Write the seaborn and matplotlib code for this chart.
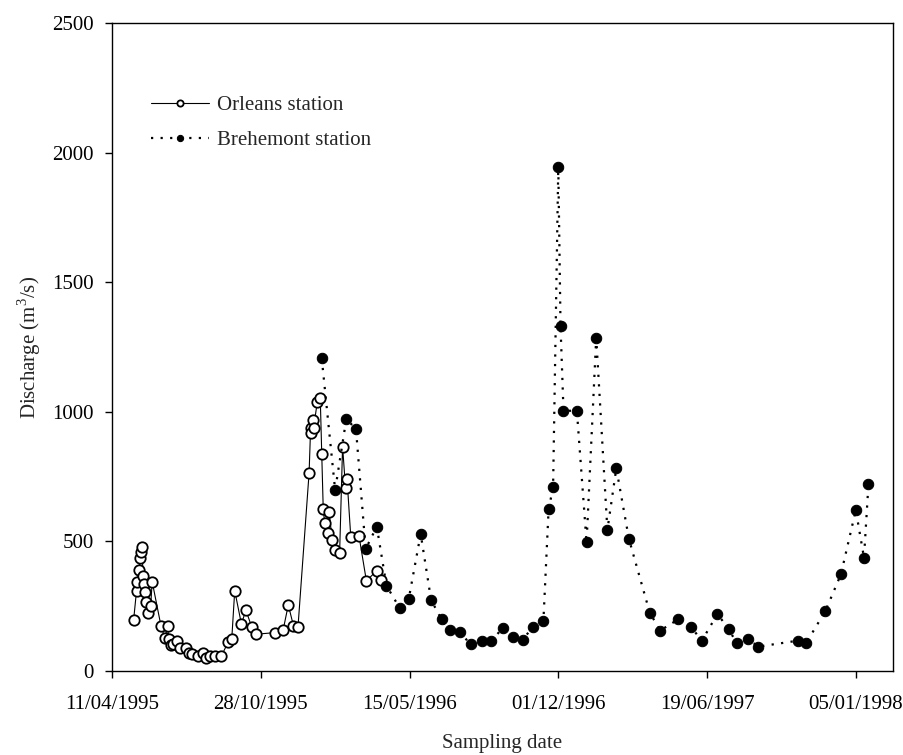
import numpy as np
import pandas as pd
import matplotlib
matplotlib.use("Agg")
import matplotlib.pyplot as plt
import matplotlib.dates as mdates
import seaborn as sns

# ---- data (days after 11/04/1995, discharge m3/s) ----
start_date = "1995-04-11"
orleans_days = [29, 33, 34, 36, 38, 39, 40, 42, 43, 44, 46, 49, 52, 54,
                66, 71, 75, 76, 79, 82, 87, 92, 100, 103, 107, 115, 123, 127,
                132, 138, 147, 156, 161, 165, 174, 180, 188, 194, 219, 230,
                237, 244, 250, 265, 267, 268, 270, 271, 276, 280, 282, 284,
                286, 291, 292, 296, 300, 306, 310, 314, 316, 321, 332, 342,
                356, 362]
orleans_q = [195, 310, 345, 390, 435, 460, 478, 365, 335, 305, 268, 222, 250, 345,
             172, 129, 172, 123, 101, 103, 114, 90, 90, 71, 64, 58, 71, 52,
             58, 58, 58, 110, 123, 310, 181, 235, 168, 142, 148, 157,
             255, 174, 168, 765, 936, 920, 969, 936, 1039, 1052, 836, 624,
             570, 534, 612, 505, 467, 454, 866, 705, 741, 518, 522, 348,
             387, 351]

brehemont_days = [282, 300, 315, 328, 341, 356, 369, 387, 399, 415, 429, 443,
                  454, 468, 482, 498, 510, 525, 539, 552, 566, 580, 587, 593,
                  600, 603, 607, 625, 638, 651, 666, 678, 695, 723, 737, 761,
                  779, 793, 814, 829, 840, 855, 869, 922, 933, 959, 980, 1000,
                  1011, 1017]
brehemont_q = [1206, 698, 972, 934, 471, 557, 329, 242, 279, 529, 274, 199,
               158, 149, 103, 116, 116, 165, 130, 120, 171, 194, 624, 708,
               1946, 1332, 1004, 1004, 496, 1286, 544, 782, 509, 225, 156, 199,
               168, 117, 220, 162, 107, 123, 94, 117, 107, 231, 373, 621,
               437, 721]

tick_dates = ["11/04/1995", "28/10/1995", "15/05/1996", "01/12/1996",
              "19/06/1997", "05/01/1998"]
y_ticks = [0, 500, 1000, 1500, 2000, 2500]

# ---- build frames ----
t0 = pd.Timestamp(start_date)
orl = pd.DataFrame({"date": t0 + pd.to_timedelta(orleans_days, unit="D"),
                    "q": orleans_q})
bre = pd.DataFrame({"date": t0 + pd.to_timedelta(brehemont_days, unit="D"),
                    "q": brehemont_q})

sns.set_style("ticks")
plt.rcParams["font.family"] = ["Liberation Serif", "DejaVu Serif"]
plt.rcParams["mathtext.fontset"] = "custom"
plt.rcParams["mathtext.rm"] = "Liberation Serif"

fig = plt.figure(figsize=(9.04, 7.55), dpi=100)
ax = fig.add_axes([112 / 904, 1 - 671 / 755, 781 / 904, 648 / 755])

sns.lineplot(data=orl, x="date", y="q", ax=ax, color="black", lw=0.8,
             marker="o", markersize=7.5, markerfacecolor="white",
             markeredgecolor="black", markeredgewidth=1.3,
             label="Orleans station", sort=False, estimator=None)
sns.lineplot(data=bre, x="date", y="q", ax=ax, color="black", lw=1.6,
             linestyle=(0, (1, 3.3)), marker="o", markersize=7.5,
             markerfacecolor="black", markeredgecolor="black",
             label="Brehemont station", sort=False, estimator=None)

ax.set_xlim(t0, t0 + pd.Timedelta(days=1050))
ax.set_ylim(0, 2500)
ax.set_yticks(y_ticks)
ax.set_xticks([pd.to_datetime(d, format="%d/%m/%Y") for d in tick_dates])
ax.xaxis.set_major_formatter(mdates.DateFormatter("%d/%m/%Y"))

for s in ax.spines.values():
    s.set_visible(True)
    s.set_color("black")
    s.set_linewidth(1.0)

ax.tick_params(axis="both", direction="out", length=5, width=1,
               labelsize=15, colors="black")
ax.tick_params(axis="x", pad=12)
ax.tick_params(axis="y", pad=8)

ax.set_xlabel("Sampling date", fontsize=15, labelpad=15)
ax.set_ylabel("Discharge (m$^3$/s)", fontsize=15, labelpad=7)

leg = ax.legend(loc="upper left", bbox_to_anchor=(0.05, 0.888), frameon=False,
                fontsize=15, handlelength=2.8, handletextpad=0.35,
                labelspacing=0.75, borderaxespad=0, borderpad=0,
                markerscale=0.6)

fig.savefig("out.png", dpi=100)
